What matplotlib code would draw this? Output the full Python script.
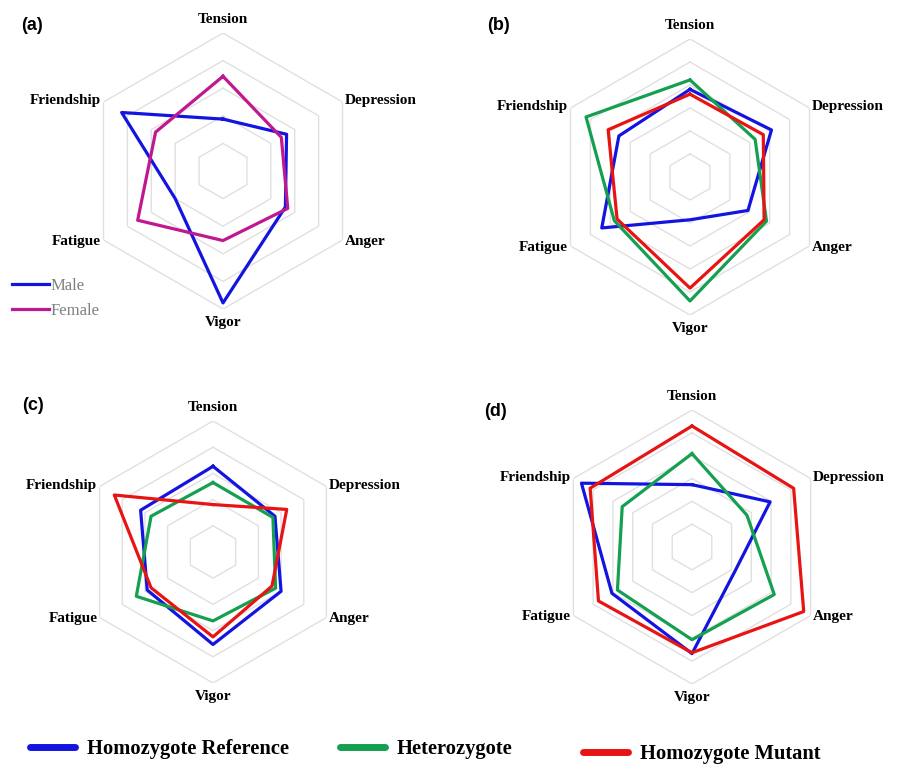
import numpy as np
import matplotlib.pyplot as plt
from matplotlib.lines import Line2D

# mood axes, clockwise from the top
labels = ["Tension", "Depression", "Anger", "Vigor", "Fatigue", "Friendship"]

# (a) sex
male = [1.88, 2.66, 2.61, 4.78, 2.00, 4.24]
female = [3.43, 2.44, 2.71, 2.52, 3.57, 2.82]

# (b)-(d) genotypes: reference, heterozygote, mutant
b_ref = [3.81, 4.09, 2.91, 1.86, 4.43, 3.57]
b_het = [4.22, 3.27, 3.84, 5.39, 3.80, 5.22]
b_mut = [3.60, 3.68, 3.72, 4.83, 3.66, 4.11]

c_ref = [3.27, 2.73, 3.00, 3.53, 2.90, 3.19]
c_het = [2.65, 2.64, 2.76, 2.63, 3.38, 2.73]
c_mut = [1.81, 3.25, 2.60, 3.24, 2.73, 4.35]

d_ref = [2.73, 3.95, 2.16, 4.67, 4.05, 5.59]
d_het = [4.09, 2.78, 4.16, 4.06, 3.77, 3.53]
d_mut = [5.30, 5.14, 5.65, 4.63, 4.73, 5.15]

genotypes = ["Homozygote Reference", "Heterozygote", "Homozygote Mutant"]

BLUE = "#1414e0"
MAGENTA = "#c01890"
GREEN = "#14a050"
RED = "#e81414"

W, H = 907, 767
fig = plt.figure(figsize=(W / 100, H / 100), dpi=100)

angles = np.arange(len(labels)) * 2 * np.pi / len(labels)


def radar(cx, cy, R, nrings, series):
    rect = [(cx - R) / W, 1 - (cy + R) / H, 2 * R / W, 2 * R / H]
    ax = fig.add_axes(rect, projection="polar")
    ax.set_theta_offset(np.pi / 2)
    ax.set_theta_direction(-1)
    ax.set_ylim(0, nrings)
    ax.spines["polar"].set_visible(False)
    ax.patch.set_visible(False)
    ax.grid(False)
    ax.set_xticks([])
    ax.set_yticks([])
    th = np.append(angles, angles[0])
    for k in range(1, nrings + 1):
        ax.plot(th, np.full(len(th), k), color="#e0e0e0", lw=1.0, zorder=1)
    for vals, col in series:
        v = np.append(vals, vals[0])
        ax.plot(th, v, color=col, lw=2.3, zorder=3, clip_on=False)
    for a, lab in zip(angles, labels):
        s = np.sin(a)
        if abs(s) < 0.1:
            va = "bottom" if np.cos(a) > 0 else "top"
            ax.text(a, nrings * 1.05, lab, ha="center", va=va,
                    family="Liberation Serif", weight="bold", fontsize=11)
        else:
            ha = "left" if s > 0 else "right"
            ax.text(a, nrings * 1.02, lab, ha=ha, va="center",
                    family="Liberation Serif", weight="bold", fontsize=11)
    return ax


radar(223, 171, 138, 5, [(male, BLUE), (female, MAGENTA)])
radar(690, 177, 138, 6, [(b_ref, BLUE), (b_het, GREEN), (b_mut, RED)])
radar(213, 552, 131, 5, [(c_ref, BLUE), (c_het, GREEN), (c_mut, RED)])
radar(692, 547, 137, 6, [(d_ref, BLUE), (d_het, GREEN), (d_mut, RED)])

for txt, x, y in [("(a)", 32, 25), ("(b)", 499, 25), ("(c)", 33, 405), ("(d)", 495, 412)]:
    fig.text(x / W, 1 - y / H, txt, ha="center", va="center",
             family="Liberation Sans", weight="bold", fontsize=13)

# small legend in panel (a)
h_sex = [Line2D([], [], color=BLUE, lw=2.3), Line2D([], [], color=MAGENTA, lw=2.3)]
leg = fig.legend(h_sex, ["Male", "Female"], loc="upper left",
                 bbox_to_anchor=(12 / W, 1 - 278 / H), frameon=False,
                 handlelength=2.2, handletextpad=0.1, labelspacing=0.55,
                 borderpad=0, borderaxespad=0,
                 prop={"family": "Liberation Serif", "size": 12})
for t in leg.get_texts():
    t.set_color("#808080")

# genotype legend at the bottom, one entry each so the spacing follows the figure
for name, col, x, y in zip(genotypes, (BLUE, GREEN, RED), (30, 340, 583), (749, 749, 754)):
    h = Line2D([], [], color=col, lw=5, solid_capstyle="round")
    fig.legend([h], [name], loc="center left", bbox_to_anchor=(x / W, 1 - y / H),
               frameon=False, handlelength=2.2, handletextpad=0.55,
               borderpad=0, borderaxespad=0,
               prop={"family": "Liberation Serif", "weight": "bold", "size": 14.8})

fig.savefig("out.png", dpi=100)
